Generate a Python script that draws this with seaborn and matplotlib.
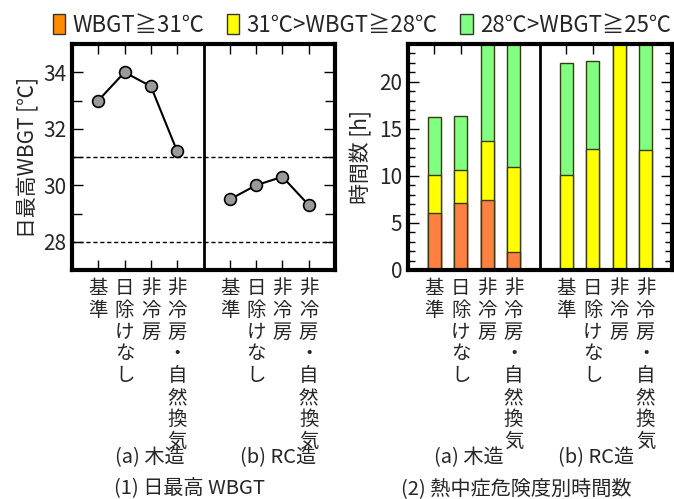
import numpy as np
import pandas as pd
import matplotlib
matplotlib.use("Agg")
import matplotlib.pyplot as plt
import matplotlib.transforms as mtransforms
from matplotlib.patches import Patch
import seaborn as sns

# ---------------- data ----------------
cases = ["基準", "日除けなし", "非冷房", "非冷房・自然換気"]
groups = ["(a) 木造", "(b) RC造"]

wbgt_wood = [33.0, 34.0, 33.5, 31.2]
wbgt_rc = [29.5, 30.0, 30.3, 29.3]

hours_ge31_wood = [6.1, 7.1, 7.4, 1.9]
hours_ge31_rc = [0.0, 0.0, 0.0, 0.0]
hours_28_31_wood = [4.0, 3.5, 6.3, 9.0]
hours_28_31_rc = [10.1, 12.9, 24.0, 12.7]
hours_25_28_wood = [6.1, 5.8, 10.3, 13.1]
hours_25_28_rc = [11.9, 9.3, 0.0, 11.3]

legend_labels = ["WBGT≧31℃", "31℃>WBGT≧28℃", "28℃>WBGT≧25℃"]
captions = ["(1) 日最高 WBGT", "(2) 熱中症危険度別時間数"]

# ---------------- style ----------------
sns.set_style("white")
plt.rcParams["font.family"] = ["Noto Sans CJK JP", "DejaVu Sans"]
plt.rcParams["axes.unicode_minus"] = False

C_OR_BAR = "#FF8040"
C_OR_LEG = "#FF8C00"
C_YE = "#FFFF00"
C_GR = "#80FF80"
C_EDGE = "#3a3a10"

n = len(cases)
pos = list(range(n)) + [n + 1 + i for i in range(n)]   # gap between groups
divider = n

fig = plt.figure(figsize=(6.74, 4.99), dpi=100)
W, H = 674, 499
ax1 = fig.add_axes([72 / W, 1 - 270 / H, 263 / W, 226 / H])
ax2 = fig.add_axes([408 / W, 1 - 270 / H, 264 / W, 226 / H])

# ---------------- left: daily max WBGT ----------------
df1 = pd.DataFrame({
    "x": pos,
    "wbgt": wbgt_wood + wbgt_rc,
    "group": [groups[0]] * n + [groups[1]] * n,
})
ax1.axhline(31, color="black", lw=1, ls=(0, (3, 2)), zorder=1)
ax1.axhline(28, color="black", lw=1, ls=(0, (3, 2)), zorder=1)
ax1.axvline(divider, color="black", lw=2, zorder=2)
sns.lineplot(data=df1, x="x", y="wbgt", units="group", estimator=None,
             color="black", lw=1.5, marker="o", markersize=8.5,
             markerfacecolor="#9a9a9a", markeredgecolor="black",
             markeredgewidth=1.2, ax=ax1, zorder=5, legend=False)
ax1.set_xlim(-1, 2 * n + 1)
ax1.set_ylim(27, 35)
ax1.set_yticks([28, 30, 32, 34])
ax1.set_yticks([29, 31, 33], minor=True)
ax1.set_ylabel("日最高WBGT [℃]", fontsize=15, labelpad=3)

# ---------------- right: hours by risk level ----------------
ge31 = np.array(hours_ge31_wood + hours_ge31_rc)
mid = np.array(hours_28_31_wood + hours_28_31_rc)
low = np.array(hours_25_28_wood + hours_25_28_rc)
df2 = pd.DataFrame({"x": pos, "top": ge31 + mid + low, "mid": ge31 + mid, "bot": ge31})

ax2.set_axisbelow(True)
for col, c in [("top", C_GR), ("mid", C_YE), ("bot", C_OR_BAR)]:
    sns.barplot(data=df2, x="x", y=col, native_scale=True, width=0.5,
                color=c, saturation=1, edgecolor=C_EDGE, linewidth=1,
                errorbar=None, ax=ax2)
ax2.axvline(divider, color="black", lw=2, zorder=3)
ax2.set_xlim(-1, 2 * n + 1)
ax2.set_ylim(0, 24)
ax2.set_yticks([0, 5, 10, 15, 20])
ax2.set_yticks(range(0, 25), minor=True)
ax2.set_ylabel("時間数 [h]", fontsize=15, labelpad=5)

# ---------------- common axis styling ----------------
for ax in (ax1, ax2):
    ax.set_xlabel("")
    ax.set_xticks(pos)
    ax.set_xticks([], minor=True)
    ax.tick_params(axis="x", which="major", direction="in", top=True, bottom=True,
                   length=7, width=1, labelbottom=False, color="black")
    ax.tick_params(axis="y", which="major", direction="in", left=True, right=True,
                   length=8, width=1, labelsize=15, pad=4, color="black")
    ax.tick_params(axis="y", which="minor", direction="in", left=True, right=True,
                   length=5 if ax is ax2 else 7, width=1, color="black")
    for s in ax.spines.values():
        s.set_visible(True)
        s.set_linewidth(3)
        s.set_color("black")
    trans = mtransforms.blended_transform_factory(ax.transData, ax.transAxes)
    for i, p in enumerate(pos):
        ax.text(p, -0.035, "\n".join(cases[i % n]), transform=trans,
                ha="center", va="top", fontsize=14, linespacing=1.05)

# group labels and captions
fig.text(150 / W, 1 - 458 / H, groups[0], ha="center", va="center", fontsize=14.5)
fig.text(278 / W, 1 - 458 / H, groups[1], ha="center", va="center", fontsize=14.5)
fig.text(469 / W, 1 - 458 / H, groups[0], ha="center", va="center", fontsize=14.5)
fig.text(596 / W, 1 - 458 / H, groups[1], ha="center", va="center", fontsize=14.5)
fig.text(190 / W, 1 - 489 / H, captions[0], ha="center", va="center", fontsize=14.5)
fig.text(516 / W, 1 - 489 / H, captions[1], ha="center", va="center", fontsize=14.5)

# legend
handles = [Patch(facecolor=c, edgecolor="#333333", linewidth=1, label=l)
           for c, l in zip([C_OR_LEG, C_YE, C_GR], legend_labels)]
fig.legend(handles=handles, loc="center", bbox_to_anchor=(362 / W, 1 - 25 / H),
           ncol=3, frameon=False, fontsize=16, handlelength=0.55, handleheight=1.0,
           handletextpad=0.35, columnspacing=1.0, borderaxespad=0, borderpad=0)

fig.savefig("out.png", dpi=100)
